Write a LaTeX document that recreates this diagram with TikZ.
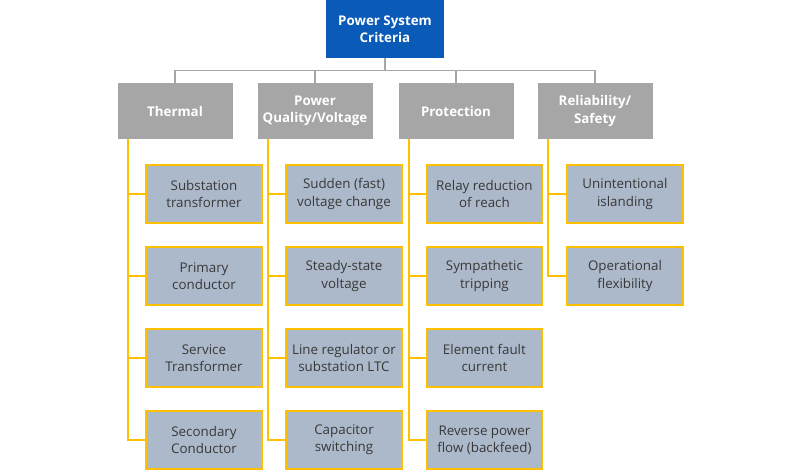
\documentclass[tikz,border=0pt]{standalone}
\usepackage{fontspec}
\setmainfont{Open Sans}
\definecolor{topblue}{RGB}{10,90,184}
\definecolor{catgray}{RGB}{166,166,166}
\definecolor{leaffill}{RGB}{172,185,202}
\definecolor{gold}{RGB}{255,192,0}
\tikzset{
  topbox/.style={fill=topblue, text=white, font=\bfseries\fontsize{9.5}{12.2}\selectfont, align=center, minimum width=2.95cm, minimum height=1.45cm},
  catbox/.style={fill=catgray, text=white, font=\bfseries\fontsize{9.5}{12.2}\selectfont, align=center, minimum width=2.875cm, minimum height=1.4cm},
  leafbox/.style={draw=gold, line width=1pt, fill=leaffill, text=black!78, font=\fontsize{9.5}{12.2}\selectfont, align=center, minimum width=2.9cm, minimum height=1.45cm},
  grayline/.style={draw=catgray, line width=1pt},
  goldline/.style={draw=gold, line width=1.2pt}
}
\begin{document}
\begin{tikzpicture}
\useasboundingbox (0,0) rectangle (20,-11.775);

\node[topbox] (top) at (9.625,-0.725) {Power System\\Criteria};

\node[catbox] (c1) at (4.375,-2.775) {Thermal};
\node[catbox] (c2) at (7.875,-2.775) {Power\\Quality/Voltage};
\node[catbox] (c3) at (11.4,-2.775) {Protection};
\node[catbox] (c4) at (14.875,-2.775) {Reliability/\\Safety};

\node[leafbox] (t1) at (5.1,-4.85) {Substation\\transformer};
\node[leafbox] (t2) at (5.1,-6.9) {Primary\\conductor};
\node[leafbox] (t3) at (5.1,-8.95) {Service\\Transformer};
\node[leafbox] (t4) at (5.1,-11.0) {Secondary\\Conductor};

\node[leafbox] (q1) at (8.6,-4.85) {Sudden (fast)\\voltage change};
\node[leafbox] (q2) at (8.6,-6.9) {Steady-state\\voltage};
\node[leafbox] (q3) at (8.6,-8.95) {Line regulator or\\substation LTC};
\node[leafbox] (q4) at (8.6,-11.0) {Capacitor\\switching};

\node[leafbox] (p1) at (12.11,-4.85) {Relay reduction\\of reach};
\node[leafbox] (p2) at (12.11,-6.9) {Sympathetic\\tripping};
\node[leafbox] (p3) at (12.11,-8.95) {Element fault\\current};
\node[leafbox] (p4) at (12.11,-11.0) {Reverse power\\flow (backfeed)};

\node[leafbox] (r1) at (15.625,-4.85) {Unintentional\\islanding};
\node[leafbox] (r2) at (15.625,-6.9) {Operational\\flexibility};

\draw[grayline] (top.south) -- ++(0,-0.3) -| (c1.north);
\draw[grayline] (top.south) -- ++(0,-0.3) -| (c2.north);
\draw[grayline] (top.south) -- ++(0,-0.3) -| (c3.north);
\draw[grayline] (top.south) -- ++(0,-0.3) -| (c4.north);

\draw[goldline] ([xshift=0.275cm]c1.south west) |- (t1.west);
\draw[goldline] ([xshift=0.275cm]c1.south west) |- (t2.west);
\draw[goldline] ([xshift=0.275cm]c1.south west) |- (t3.west);
\draw[goldline] ([xshift=0.275cm]c1.south west) |- (t4.west);

\draw[goldline] ([xshift=0.275cm]c2.south west) |- (q1.west);
\draw[goldline] ([xshift=0.275cm]c2.south west) |- (q2.west);
\draw[goldline] ([xshift=0.275cm]c2.south west) |- (q3.west);
\draw[goldline] ([xshift=0.275cm]c2.south west) |- (q4.west);

\draw[goldline] ([xshift=0.275cm]c3.south west) |- (p1.west);
\draw[goldline] ([xshift=0.275cm]c3.south west) |- (p2.west);
\draw[goldline] ([xshift=0.275cm]c3.south west) |- (p3.west);
\draw[goldline] ([xshift=0.275cm]c3.south west) |- (p4.west);

\draw[goldline] ([xshift=0.275cm]c4.south west) |- (r1.west);
\draw[goldline] ([xshift=0.275cm]c4.south west) |- (r2.west);
\end{tikzpicture}
\end{document}
